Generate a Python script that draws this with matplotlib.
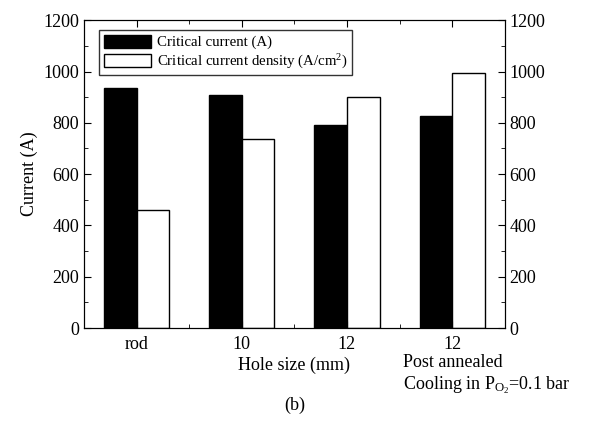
import matplotlib
matplotlib.use("Agg")
import matplotlib.pyplot as plt
import numpy as np
from matplotlib.ticker import MultipleLocator

plt.rcParams['font.family'] = ['Liberation Serif', 'DejaVu Serif']
plt.rcParams['mathtext.fontset'] = 'custom'
plt.rcParams['mathtext.rm'] = 'Liberation Serif'
plt.rcParams['mathtext.it'] = 'Liberation Serif:italic'

categories = ["rod", "10", "12", "12"]
critical_current = [935, 908, 790, 827]
current_density = [462, 738, 899, 996]

fig = plt.figure(figsize=(5.91, 4.30), dpi=100)
ax = fig.add_axes([0.142, 0.237, 0.712, 0.716])

x = np.arange(len(categories))
w = 0.31
ax.bar(x - w / 2, critical_current, w, color='black', edgecolor='black',
       linewidth=1, label="Critical current (A)")
ax.bar(x + w / 2, current_density, w, color='white', edgecolor='black',
       linewidth=1, label="Critical current density (A/cm$^2$)")

ax.set_xlim(-0.5, 3.5)
ax.set_ylim(0, 1200)
ax.set_xticks(x)
ax.set_xticklabels(categories)
ax.xaxis.set_minor_locator(MultipleLocator(0.5))
ax.yaxis.set_major_locator(MultipleLocator(200))
ax.yaxis.set_minor_locator(MultipleLocator(100))
ax.tick_params(which='both', direction='in', top=True, labelsize=13)
ax.tick_params(which='major', length=5)
ax.tick_params(which='minor', length=3)
ax.tick_params(axis='x', pad=6)
ax.set_ylabel("Current (A)", fontsize=13)
ax.set_xlabel("Hole size (mm)", fontsize=13, labelpad=2)

ax2 = ax.twinx()
ax2.set_ylim(0, 1200)
ax2.yaxis.set_major_locator(MultipleLocator(200))
ax2.yaxis.set_minor_locator(MultipleLocator(100))
ax2.tick_params(which='both', direction='in', labelsize=13)
ax2.tick_params(which='major', length=5)
ax2.tick_params(which='minor', length=3)

leg = ax.legend(loc='upper left', bbox_to_anchor=(0.036, 0.968), fontsize=10.7,
                frameon=True, fancybox=False, edgecolor='black',
                borderaxespad=0, handlelength=3.2, handleheight=1.0,
                borderpad=0.3, labelspacing=0.2, handletextpad=0.4)
leg.get_frame().set_linewidth(1)

fig.text(0.682, 0.158, "Post annealed", fontsize=13, ha='left', va='center')
fig.text(0.682, 0.104, r"Cooling in P$_{\mathregular{O_2}}$=0.1 bar",
         fontsize=13, ha='left', va='center')
fig.text(0.499, 0.058, "(b)", fontsize=13, ha='center', va='center')

fig.savefig("out.png", dpi=100)
